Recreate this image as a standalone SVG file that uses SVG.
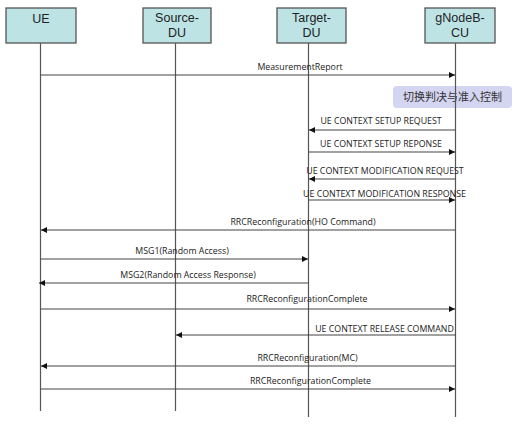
<svg xmlns="http://www.w3.org/2000/svg" width="529" height="427" viewBox="0 0 529 427">
<defs>
<marker id="ah" viewBox="0 0 10 10" refX="10" refY="5" markerWidth="7" markerHeight="6" markerUnits="userSpaceOnUse" orient="auto">
<path d="M0,0 L10,5 L0,10 Z" fill="#111"/>
</marker>
<style>
.box{fill:#bde3e5;stroke:#555;stroke-width:1.3}
.hd{font-family:"Liberation Sans",Arial,sans-serif;font-size:12.5px;fill:#222;text-anchor:middle}
.life{stroke:#555;stroke-width:1.2;fill:none}
.msg{stroke:#444;stroke-width:1.1;fill:none;marker-end:url(#ah)}
.lbl{font-family:"Open Sans","Noto Sans",sans-serif;font-size:8.8px;fill:#222;text-anchor:middle}
.note{fill:#d4d5f1;stroke:none}
.nt{font-family:"Noto Sans CJK SC","Noto Sans",sans-serif;font-size:11px;fill:#333;text-anchor:middle}
</style>
</defs>
<rect width="529" height="427" fill="#fff"/>
<g id="note-decision">
<rect class="note" x="393" y="86" width="119" height="22" rx="4"/>
<text class="nt" x="452.5" y="101">切换判决与准入控制</text>
</g>
<g id="node-ue">
<rect class="box" x="6" y="8" width="70" height="35"/>
<text class="hd" x="41" y="23">UE</text>
<line class="life" x1="40.5" y1="43" x2="40.5" y2="411"/>
</g>
<g id="node-source-du">
<rect class="box" x="143" y="8" width="68" height="35"/>
<text class="hd" x="177" y="22">Source-</text>
<text class="hd" x="177" y="37">DU</text>
<line class="life" x1="175.5" y1="43" x2="175.5" y2="411"/>
</g>
<g id="node-target-du">
<rect class="box" x="277" y="8" width="69" height="35"/>
<text class="hd" x="311.5" y="22">Target-</text>
<text class="hd" x="311.5" y="37">DU</text>
<line class="life" x1="308.5" y1="43" x2="308.5" y2="417"/>
</g>
<g id="node-gnodeb-cu">
<rect class="box" x="425" y="8" width="70" height="35"/>
<text class="hd" x="460" y="22">gNodeB-</text>
<text class="hd" x="460" y="37">CU</text>
<line class="life" x1="455.5" y1="43" x2="455.5" y2="417"/>
</g>
<g id="connectors">
<line class="msg" x1="40.5" y1="75" x2="455" y2="75"/>
<text class="lbl" x="300" y="70">MeasurementReport</text>
<line class="msg" x1="455.5" y1="130" x2="309" y2="130"/>
<text class="lbl" x="381" y="124">UE CONTEXT SETUP REQUEST</text>
<line class="msg" x1="308.5" y1="152" x2="455" y2="152"/>
<text class="lbl" x="381" y="147">UE CONTEXT SETUP REPONSE</text>
<line class="msg" x1="455.5" y1="179" x2="309" y2="179"/>
<text class="lbl" x="385" y="174">UE CONTEXT MODIFICATION REQUEST</text>
<line class="msg" x1="308.5" y1="200" x2="455" y2="200"/>
<text class="lbl" x="384.5" y="197">UE CONTEXT MODIFICATION RESPONSE</text>
<line class="msg" x1="455.5" y1="230" x2="41" y2="230"/>
<text class="lbl" x="303" y="225">RRCReconfiguration(HO Command)</text>
<line class="msg" x1="40.5" y1="259" x2="308" y2="259"/>
<text class="lbl" x="182" y="254">MSG1(Random Access)</text>
<line class="msg" x1="308.5" y1="283" x2="39" y2="283"/>
<text class="lbl" x="188" y="278">MSG2(Random Access Response)</text>
<line class="msg" x1="40.5" y1="309" x2="455" y2="309"/>
<text class="lbl" x="307" y="302">RRCReconfigurationComplete</text>
<line class="msg" x1="455.5" y1="335" x2="176" y2="335"/>
<text class="lbl" x="384.5" y="332">UE CONTEXT RELEASE COMMAND</text>
<line class="msg" x1="455.5" y1="366" x2="41" y2="366"/>
<text class="lbl" x="307.5" y="361">RRCReconfiguration(MC)</text>
<line class="msg" x1="40.5" y1="389" x2="455" y2="389"/>
<text class="lbl" x="310.5" y="384">RRCReconfigurationComplete</text>
</g>
</svg>
